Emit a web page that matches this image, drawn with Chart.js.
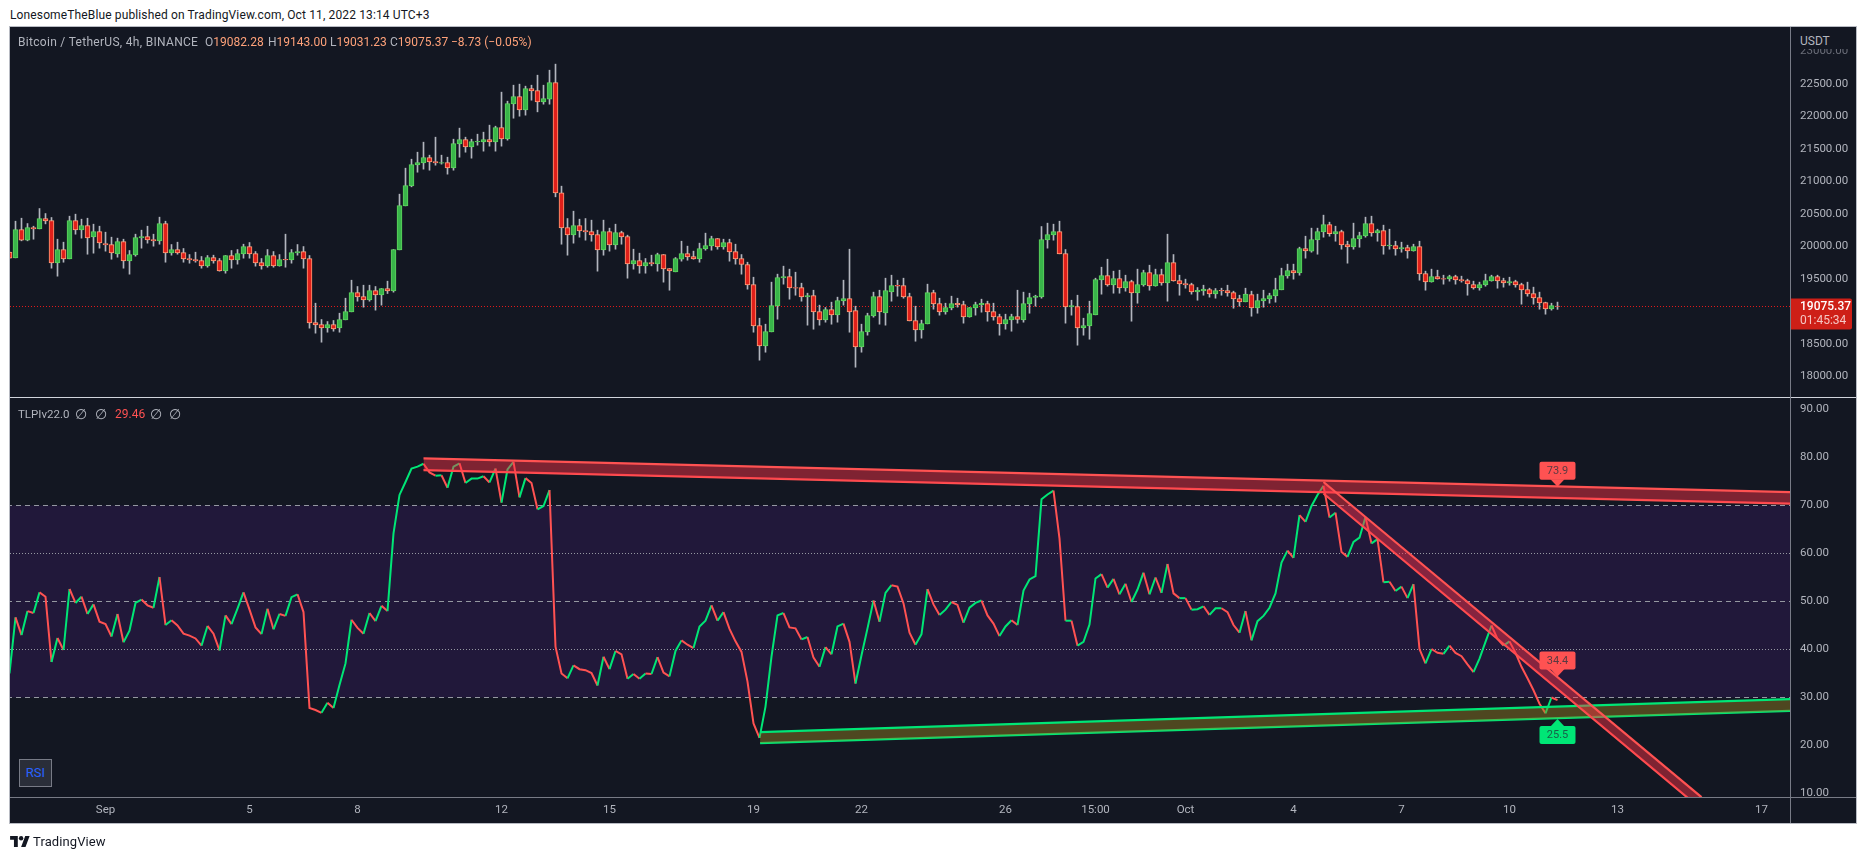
<!DOCTYPE html>
<html>
<head>
<meta charset="utf-8">
<title>BTCUSDT 4h with RSI trendlines</title>
<script src="https://cdn.jsdelivr.net/npm/chart.js@4/dist/chart.umd.js"></script>
<style>
  html, body { margin: 0; padding: 0; background: #fff; width: 1866px; height: 859px; overflow: hidden; }
  body { font-family: Roboto, sans-serif; position: relative; }
  .abs { position: absolute; white-space: nowrap; }
  #frame { position: absolute; left: 9px; top: 26px; width: 1846px; height: 796px; border: 1px solid #b8bbc3; background: #131722; }
  canvas { position: absolute; display: block; }
  .hline { position: absolute; left: 10px; width: 1846px; height: 1px; }
  .legend { font-size: 12px; line-height: 14px; color: #b2b5be; }
  .val { color: #ffa27a; }
  .slash { font-family: 'DejaVu Sans'; font-size: 14px; }
</style>
</head>
<body>
<div class="abs" id="published" style="left:10px;top:8px;font-size:12px;line-height:14px;letter-spacing:0.13px;color:#131722">LonesomeTheBlue published on TradingView.com, Oct 11, 2022 13:14 UTC+3</div>
<div id="frame"></div>
<canvas id="price-chart" width="1846" height="370" style="left:10px;top:27px"></canvas>
<canvas id="rsi-chart" width="1846" height="425" style="left:10px;top:398px"></canvas>

<div class="hline" style="top:397px;height:1px;background:#d1d4dc"></div>
<div class="hline" style="top:797px;background:#787b86"></div>
<div class="abs" style="left:1790px;top:27px;width:1px;height:796px;background:#787b86"></div>

<div class="abs" style="left:1791px;top:28px;width:65px;height:21px;background:#131722"></div>
<div class="abs legend" style="left:1800px;top:34px">USDT</div>

<div class="abs legend" style="left:18px;top:35px;letter-spacing:0.3px">Bitcoin / TetherUS, 4h, BINANCE</div>
<div class="abs legend" style="left:205px;top:35px">O<span class="val">19082.28</span></div>
<div class="abs legend" style="left:268px;top:35px">H<span class="val">19143.00</span></div>
<div class="abs legend" style="left:330px;top:35px">L<span class="val">19031.23</span></div>
<div class="abs legend" style="left:390px;top:35px">C<span class="val">19075.37</span></div>
<div class="abs legend val" style="left:451px;top:35px">−8.73 (−0.05%)</div>

<div class="abs legend" style="left:18px;top:407px;font-size:11.5px">TLPIv22.0</div>
<div class="abs legend slash" style="left:75px;top:407px">∅</div>
<div class="abs legend slash" style="left:95px;top:407px">∅</div>
<div class="abs legend" style="left:115px;top:407px;color:#ff5252">29.46</div>
<div class="abs legend slash" style="left:150px;top:407px">∅</div>
<div class="abs legend slash" style="left:169px;top:407px">∅</div>

<div class="abs" style="left:19px;top:759px;width:31px;height:26px;border:1px solid #787b86;background:#2a2e39;color:#2962ff;font-size:13px;line-height:26px;text-align:center">RSI</div>

<svg class="abs" style="left:10px;top:836px" width="20" height="11" viewBox="0 0 36 20">
  <path fill="#131722" d="M14 20H7V7H0V0h14v20zM28 20h-8L27.5 0h8L28 20z"/>
  <circle cx="20" cy="4" r="4" fill="#131722"/>
</svg>
<div class="abs" style="left:33px;top:834px;font-size:13px;line-height:15px;letter-spacing:0.1px;color:#131722">TradingView</div>

<script>
// ── Price data, 4h candles ─────────────────────────────
const opens = [
  19911,19824,20260,20096,20291,20270,20429,20399,19747,19952,19809,20399,20255,20322,20147,20229,
  20045,20029,19886,20075,19778,19870,20132,20152,20106,20086,20352,19901,19952,19906,19814,19798,
  19783,19701,19829,19783,19624,19860,19793,19886,19998,19891,19752,19701,19860,19701,19803,19793,
  19901,19921,19814,18829,18798,18747,18798,18747,18870,18993,19290,19229,19178,19321,19255,19352,
  19316,19947,20624,20932,21255,21286,21368,21307,21281,21291,21209,21578,21645,21532,21609,21609,
  21645,21609,21830,21655,22194,22307,22102,22430,22399,22225,22266,22522,20824,20291,20178,20322,
  20245,20229,20183,19947,20229,20024,20214,20152,19732,19783,19701,19752,19732,19875,19660,19609,
  19803,19891,19845,19809,19962,20009,20122,19993,20060,19921,19814,19721,19414,18783,18470,18685,
  19085,19516,19537,19367,19367,19224,19244,18998,18870,19029,18947,19162,19198,19013,18454,18685,
  18931,19229,18978,19301,19403,19398,19229,18860,18716,18808,19290,19121,18993,19054,19126,19106,
  18916,19054,19101,19121,18998,18921,18808,18870,18921,18870,19116,19214,19224,20101,20178,20229,
  19891,19070,19075,18747,18777,18947,19485,19552,19408,19506,19362,19460,19285,19408,19598,19393,
  19567,19439,19752,19475,19429,19414,19301,19316,19337,19270,19326,19321,19290,19198,19147,19260,
  19054,19162,19193,19239,19332,19547,19629,19593,19968,19927,20101,20224,20337,20193,20229,20029,
  19993,20116,20163,20352,20209,20245,20009,20014,19962,19983,19932,19998,19583,19455,19537,19506,
  19501,19537,19491,19475,19414,19362,19408,19470,19537,19475,19439,19460,19414,19337,19275,19214,
  19137,19039,19082.28
];
const closes = [
  19819,20260,20096,20291,20270,20429,20393,19747,19952,19809,20399,20255,20322,20132,20229,20055,
  20024,19901,20075,19778,19875,20137,20152,20101,20086,20352,19901,19952,19901,19809,19793,19778,
  19701,19829,19778,19624,19860,19793,19891,19998,19886,19747,19701,19860,19701,19798,19793,19906,
  19921,19809,18824,18793,18747,18798,18731,18875,18998,19290,19224,19178,19321,19255,19352,19316,
  19952,20629,20937,21260,21291,21368,21301,21286,21291,21209,21584,21645,21532,21614,21619,21645,
  21609,21830,21655,22199,22307,22102,22430,22394,22225,22276,22522,20824,20286,20178,20322,20240,
  20224,20178,19947,20229,20024,20214,20147,19732,19783,19701,19752,19732,19875,19655,19624,19814,
  19891,19839,19809,19968,20014,20122,19993,20060,19916,19809,19721,19408,18777,18470,18690,19090,
  19521,19537,19362,19357,19224,19244,18993,18870,19029,18947,19167,19198,18993,18454,18690,18936,
  19229,18993,19321,19398,19388,19224,18854,18716,18813,19290,19116,18993,19060,19121,19101,18916,
  19060,19106,19126,18993,18916,18808,18875,18921,18875,19121,19214,19234,20106,20183,20229,19886,
  19070,19090,18747,18783,18967,19491,19552,19408,19506,19362,19460,19285,19414,19598,19393,19567,
  19439,19752,19470,19424,19408,19301,19326,19342,19270,19321,19316,19285,19193,19147,19265,19054,
  19167,19198,19244,19337,19552,19629,19593,19968,19932,20106,20229,20337,20198,20229,20024,19993,
  20122,20168,20352,20209,20245,20009,20019,19962,19983,19932,19998,19578,19455,19537,19501,19496,
  19537,19485,19470,19424,19362,19414,19475,19537,19470,19439,19460,19408,19332,19270,19208,19132,
  19039,19090,19075.37
];
const highs = [
  19911,20388,20434,20352,20311,20583,20506,20445,20111,20065,20465,20496,20419,20434,20342,20311,
  20219,20142,20127,20111,19937,20188,20250,20311,20188,20450,20388,20029,20065,19968,19875,19911,
  19845,19860,19865,19814,19860,19937,19952,20034,20060,19921,19814,19952,19921,19875,20188,19952,
  20029,19998,19860,19126,18875,18844,18860,18972,19203,19480,19383,19403,19403,19383,19352,19465,
  19952,20804,21204,21342,21450,21604,21404,21681,21404,21373,21650,21820,21681,21650,21727,21758,
  21866,21850,22374,22235,22481,22497,22466,22481,22635,22481,22712,22805,20927,20429,20542,20419,
  20429,20404,20250,20404,20281,20342,20234,20173,19957,19896,19814,19865,19896,19875,19660,19829,
  20080,20004,19927,20050,20204,20157,20122,20111,20111,20034,19875,19757,19526,18895,18803,19450,
  19573,19696,19650,19603,19434,19280,19326,19096,19060,19142,19219,19480,19957,19080,18803,18972,
  19296,19326,19511,19557,19480,19511,19280,19080,18865,19419,19326,19203,19126,19234,19203,19157,
  19060,19142,19188,19157,19126,18957,18957,18957,19326,19296,19280,19249,20306,20358,20342,20388,
  19952,19172,19249,18895,19157,19511,19680,19803,19619,19634,19557,19480,19650,19634,19711,19650,
  19650,20188,19875,19557,19496,19434,19367,19403,19357,19352,19357,19403,19311,19249,19357,19311,
  19265,19326,19280,19511,19665,19727,19727,19988,20157,20281,20281,20481,20373,20311,20250,20080,
  20358,20219,20450,20465,20265,20327,20265,20080,20065,20019,20034,20080,19619,19650,19634,19557,
  19557,19557,19542,19496,19465,19450,19573,19557,19557,19511,19526,19480,19434,19450,19373,19296,
  19142,19126,19143
];
const lows = [
  19819,19824,20086,20086,20111,20270,20347,19665,19542,19757,19809,20188,20127,19880,19896,19973,
  19927,19803,19834,19665,19573,19850,19973,20050,20004,20034,19757,19865,19880,19757,19742,19757,
  19665,19680,19742,19619,19588,19665,19727,19819,19819,19696,19650,19680,19680,19696,19680,19742,
  19865,19665,18742,18665,18526,18680,18695,18680,18870,18993,19157,19065,19157,19019,19096,19275,
  19296,19947,20624,20917,21142,21189,21173,21250,21266,21112,21173,21373,21450,21358,21558,21466,
  21543,21466,21543,21635,21973,22004,22020,22250,22071,22189,22189,20763,20034,19865,20050,20142,
  20096,20080,19619,19865,19927,19957,20034,19511,19650,19588,19588,19701,19619,19450,19326,19609,
  19773,19788,19803,19757,19942,19942,19957,19957,19773,19727,19573,19342,18680,18249,18372,18685,
  18880,19419,19188,19249,19157,18788,18726,18788,18834,18803,18834,19096,18680,18141,18372,18634,
  18911,18803,18788,19157,19234,19203,18854,18541,18588,18808,19034,18942,18957,19024,19065,18819,
  18911,18942,18988,18849,18865,18634,18726,18695,18819,18834,18972,19080,19203,19973,20096,19886,
  18819,18942,18480,18634,18572,18947,19265,19388,19280,19280,19311,18849,19126,19388,19326,19388,
  19403,19157,19465,19249,19357,19265,19172,19249,19219,19203,19249,19234,19049,19080,19147,18926,
  18972,19065,19126,19142,19332,19511,19496,19557,19819,19911,19880,20142,20157,20080,19957,19742,
  19957,19988,20142,20157,20080,19880,19957,19865,19911,19819,19927,19480,19326,19450,19496,19419,
  19465,19419,19450,19249,19342,19326,19388,19465,19357,19373,19403,19373,19111,19234,19111,19034,
  18957,19019,19031.23
];
const lastPrice = 19075.37;
const lastPriceCountdown = '01:45:34';
const priceTicks = [18000,18500,19000,19500,20000,20500,21000,21500,22000,22500,23000];

// ── RSI pane ───────────────────────────────────────────
const rsiValues = [
  35.0,46.7,43.0,48.0,47.6,51.9,51.0,37.4,42.4,39.9,52.6,49.7,51.0,47.4,49.4,45.8,
  45.3,42.7,47.4,41.5,43.9,49.7,50.4,49.2,48.7,55.1,45.1,46.1,45.0,43.3,42.9,42.3,
  40.8,44.9,43.3,39.8,47.1,45.3,48.5,51.9,48.3,44.6,43.2,48.5,44.2,47.4,47.0,50.9,
  51.5,47.8,27.8,27.4,26.8,28.9,27.8,32.6,37.1,46.2,44.5,43.3,47.6,45.9,49.1,48.0,
  64.2,72.2,74.9,77.7,78.1,78.7,76.9,76.2,76.3,73.7,78.1,78.8,74.7,75.6,75.6,76.1,
  74.8,77.7,70.6,77.5,79.1,71.7,75.7,74.7,69.2,69.9,73.2,40.6,35.0,34.0,36.7,35.9,
  35.7,35.1,32.5,38.5,35.9,39.7,39.0,33.9,34.9,33.9,35.0,34.9,38.4,35.2,34.4,39.7,
  41.9,41.0,40.3,44.8,46.0,49.2,46.0,47.8,44.3,41.7,39.5,33.3,24.6,21.6,28.1,38.5,
  47.1,47.6,44.6,44.4,42.1,42.6,38.3,36.4,40.5,39.0,44.8,45.4,41.6,32.9,38.8,44.4,
  50.2,45.8,51.8,53.4,53.1,49.6,43.5,41.0,43.2,52.6,49.4,47.2,48.3,49.9,49.3,45.6,
  48.7,49.7,50.2,47.1,45.4,42.8,44.8,46.1,45.1,52.3,54.6,55.3,71.3,72.3,73.1,63.1,
  46.0,46.0,40.8,41.6,45.2,54.8,55.7,52.9,54.7,51.5,53.7,49.9,52.5,56.0,51.5,55.0,
  51.8,57.8,51.7,50.7,50.7,48.3,48.4,49.0,47.2,48.6,48.6,47.8,45.1,43.5,48.0,41.9,
  45.9,47.0,48.7,51.7,58.1,60.6,59.1,68.0,66.6,69.9,72.2,74.1,67.5,68.5,60.3,59.3,
  62.4,63.3,67.6,62.1,63.0,54.0,54.1,52.2,53.1,50.7,53.6,40.1,37.1,40.1,39.3,39.1,
  40.8,39.3,38.6,36.9,35.3,38.1,41.6,45.0,42.2,40.8,41.7,39.3,36.4,34.0,31.5,28.7,
  26.7,30.0,29.46
];
const rsiTicks = [10,20,30,40,50,60,70,80,90];
const dashedLevels = [70,50,30];
const dottedLevels = [60,40];

// trendlines: bar index and RSI value at both ends
const upperLineX = [69,296.8];
const upperLineTop = [79.8,72.8];
const upperLineBottom = [77.35,70.4];
const lowerLineX = [125.1,296.8];
const lowerLineTop = [22.8,29.65];
const lowerLineBottom = [20.5,27.2];
const fallingLineX = [219,282];
const fallingLineTop = [74.9,9.23];
const fallingLineBottom = [72.5,6.7];

// value labels sitting on the trendlines at the last bar
const lineLabelValues = [73.9,34.4,25.5];
const lineLabelColors = ['#ff5252','#ff5252','#00e676'];
const lineLabelText = ['#5b3a42','#5b3a42','#17604a'];

// ── Time axis ──────────────────────────────────────────
const timeTickBars = [16,40,58,82,100,124,142,166,181,196,214,232,250,268,292];
const timeTickLabels = ['Sep','5','8','12','15','19','22','26','15:00','Oct','4','7','10','13','17'];

// ── Shared look ────────────────────────────────────────
const TICK_COLOR = '#b2b5be';
const LEVEL_COLOR = '#9598a1';
const UP_FILL = '#39b54a', UP_EDGE = '#5fd35f';
const DOWN_FILL = '#e01f1a', DOWN_EDGE = '#ffa07a';
const GREEN = '#00e676', RED = '#ff5252';
const RED_BAND = 'rgba(255,50,70,0.46)';
const GREEN_BAND = 'rgba(150,130,30,0.45)';
const FONT = { family: 'Roboto, sans-serif', size: 11.5 };
// 6px per bar, with bar centres on pixel centres so wicks stay crisp
const X_MIN = 0.0833, X_MAX = 296.75;

Chart.defaults.animation = false;
Chart.defaults.font.family = FONT.family;

const barIndex = closes.map((_, i) => i);
const isUp = i => closes[i] >= opens[i];
const flatLine = (y, extra) => ({
  type: 'line', data: [{ x: X_MIN - 2, y }, { x: X_MAX + 2, y }], pointRadius: 0, borderWidth: 1, ...extra
});
const zipLine = (xs, ys) => xs.map((x, i) => ({ x, y: ys[i] }));
const bandLine = (xs, ys, color, extra) => ({
  type: 'line', data: zipLine(xs, ys), borderColor: color, borderWidth: 2.2, pointRadius: 0, ...extra
});
// the plot area has to fill the pane exactly, so drop label margins
const noPadding = s => { s.paddingTop = s.paddingBottom = s.paddingLeft = s.paddingRight = 0; };

// ── Candles ────────────────────────────────────────────
const lastPricePill = {
  id: 'lastPricePill',
  afterDraw(chart) {
    const { ctx, chartArea, scales } = chart;
    const y = scales.y.getPixelForValue(lastPrice);
    ctx.save();
    ctx.fillStyle = '#ce1f17';
    ctx.beginPath();
    ctx.roundRect(chartArea.right, y - 8, 62, 31, [0, 2, 2, 0]);
    ctx.fill();
    ctx.font = '500 12px ' + FONT.family;
    ctx.textBaseline = 'middle';
    ctx.fillStyle = '#ffffff';
    ctx.fillText(lastPrice.toFixed(2), chartArea.right + 10, y + 0.5);
    ctx.font = '12px ' + FONT.family;
    ctx.fillStyle = '#f5c6c3';
    ctx.fillText(lastPriceCountdown, chartArea.right + 10, y + 15);
    ctx.restore();
  }
};

new Chart(document.getElementById('price-chart'), {
  type: 'bar',
  data: {
    datasets: [
      {
        label: 'Body',
        data: barIndex.map(i => ({ x: i, y: [opens[i], closes[i]] })),
        grouped: false,
        barThickness: 5,
        borderWidth: 1,
        borderSkipped: false,
        backgroundColor: ctx => isUp(ctx.dataIndex) ? UP_FILL : DOWN_FILL,
        borderColor: ctx => isUp(ctx.dataIndex) ? UP_EDGE : DOWN_EDGE,
        order: 1
      },
      {
        label: 'Wick',
        data: barIndex.map(i => ({ x: i, y: [lows[i], highs[i]] })),
        grouped: false,
        barThickness: 1,
        backgroundColor: TICK_COLOR,
        order: 2
      },
      flatLine(lastPrice, { borderColor: '#e31b1b', borderDash: [1, 2], order: 3 })
    ]
  },
  options: {
    responsive: false,
    layout: { padding: 0, autoPadding: false },
    events: [],
    plugins: { legend: { display: false }, tooltip: { enabled: false } },
    scales: {
      x: { type: 'linear', display: false, offset: false, min: X_MIN, max: X_MAX },
      y: {
        position: 'right',
        min: 17682.6,
        max: 23376.6,
        afterFit: s => { s.width = 66; noPadding(s); },
        afterBuildTicks: s => { s.ticks = priceTicks.map(value => ({ value })); },
        grid: { display: false, drawTicks: false },
        border: { display: false },
        ticks: {
          padding: 10,
          font: FONT,
          autoSkip: false,
          color: ctx => ctx.tick && ctx.tick.value === 23000 ? '#6a6d78' : TICK_COLOR,
          callback: v => v.toFixed(2)
        }
      }
    }
  },
  plugins: [lastPricePill]
});

// ── RSI with trendline channels ────────────────────────
const lineLabels = {
  id: 'lineLabels',
  afterDatasetsDraw(chart) {
    const { ctx, scales } = chart;
    const cx = scales.x.getPixelForValue(barIndex[barIndex.length - 1]);
    ctx.save();
    ctx.font = '11px ' + FONT.family;
    ctx.textAlign = 'center';
    ctx.textBaseline = 'middle';
    lineLabelValues.forEach((value, i) => {
      const tip = scales.y.getPixelForValue(value);
      const dir = value < lowerLineTop[1] ? 1 : -1;
      const boxY = dir < 0 ? tip - 7 - 18 : tip + 7;
      ctx.fillStyle = lineLabelColors[i];
      ctx.beginPath();
      ctx.roundRect(cx - 18, boxY, 36, 18, 2);
      ctx.fill();
      ctx.beginPath();
      ctx.moveTo(cx - 7, tip + dir * 7.5);
      ctx.lineTo(cx, tip);
      ctx.lineTo(cx + 7, tip + dir * 7.5);
      ctx.fill();
      ctx.fillStyle = lineLabelText[i];
      ctx.fillText(value.toFixed(1), cx, boxY + 9.5);
    });
    ctx.restore();
  }
};

const rsiDatasets = [
  // channels on top of the RSI line, their fill runs to the next dataset
  bandLine(fallingLineX, fallingLineTop, RED, { fill: '+1', backgroundColor: RED_BAND, order: 1 }),
  bandLine(fallingLineX, fallingLineBottom, RED, { order: 1 }),
  bandLine(upperLineX, upperLineTop, RED, { fill: '+1', backgroundColor: RED_BAND, order: 2 }),
  bandLine(upperLineX, upperLineBottom, RED, { order: 2 }),
  bandLine(lowerLineX, lowerLineTop, GREEN, { fill: '+1', backgroundColor: GREEN_BAND, order: 3 }),
  bandLine(lowerLineX, lowerLineBottom, GREEN, { order: 3 }),
  {
    label: 'RSI',
    data: barIndex.map(i => ({ x: i, y: rsiValues[i] })),
    borderWidth: 2,
    pointRadius: 0,
    borderColor: GREEN,
    segment: { borderColor: c => c.p1.parsed.y >= c.p0.parsed.y ? GREEN : RED },
    order: 4
  }
];
dashedLevels.forEach(y => rsiDatasets.push(flatLine(y, { borderColor: LEVEL_COLOR, borderDash: [5, 4], order: 5 })));
dottedLevels.forEach(y => rsiDatasets.push(flatLine(y, { borderColor: LEVEL_COLOR, borderDash: [1, 2], order: 5 })));
// purple zone between the outer levels
rsiDatasets.push(flatLine(dashedLevels[0], {
  borderWidth: 0, fill: { value: dashedLevels[2] }, backgroundColor: '#21183a', order: 6
}));

new Chart(document.getElementById('rsi-chart'), {
  type: 'line',
  data: { datasets: rsiDatasets },
  options: {
    responsive: false,
    layout: { padding: 0, autoPadding: false },
    events: [],
    plugins: { legend: { display: false }, tooltip: { enabled: false } },
    scales: {
      x: {
        type: 'linear',
        min: X_MIN,
        max: X_MAX,
        afterFit: s => { s.height = 26; noPadding(s); },
        afterBuildTicks: s => { s.ticks = timeTickBars.map(value => ({ value })); },
        grid: { display: false, drawTicks: false },
        border: { display: false },
        ticks: {
          padding: 6,
          font: FONT,
          color: TICK_COLOR,
          autoSkip: false,
          maxRotation: 0,
          callback: v => timeTickLabels[timeTickBars.indexOf(v)]
        }
      },
      y: {
        position: 'right',
        min: 9.271,
        max: 92.396,
        afterFit: s => { s.width = 66; noPadding(s); },
        afterBuildTicks: s => { s.ticks = rsiTicks.map(value => ({ value })); },
        grid: { display: false, drawTicks: false },
        border: { display: false },
        ticks: {
          padding: 10,
          font: FONT,
          color: TICK_COLOR,
          autoSkip: false,
          callback: v => v.toFixed(2)
        }
      }
    }
  },
  plugins: [lineLabels]
});
</script>
</body>
</html>
